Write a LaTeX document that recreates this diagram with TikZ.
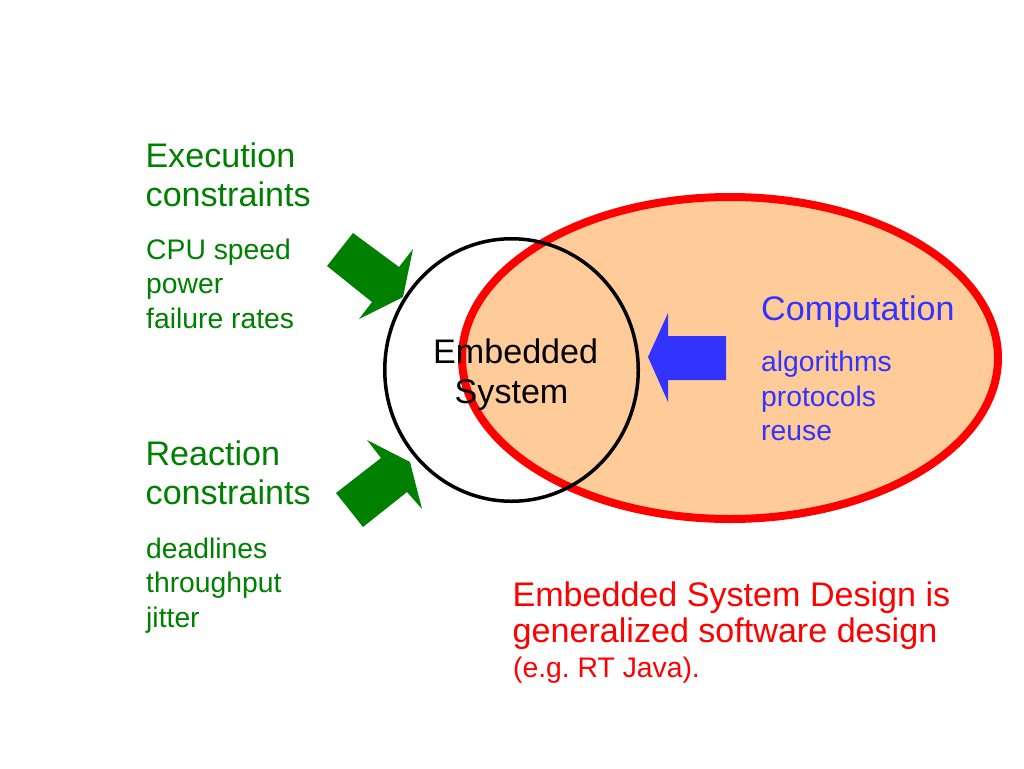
\documentclass[tikz,border=0pt]{standalone}
\usepackage{fontspec}
\setmainfont{Liberation Sans}
\definecolor{peach}{HTML}{FFCC99}
\definecolor{dgreen}{HTML}{008000}
\definecolor{cblue}{HTML}{3333FF}
\frenchspacing
\begin{document}
\begin{tikzpicture}[x=1pt,y=-1pt,
  big/.style={inner sep=0pt, anchor=base west, font=\fontsize{34.1}{40}\selectfont},
  small/.style={inner sep=0pt, anchor=base west, font=\fontsize{28.3}{34}\selectfont},
  greenarrow/.style={fill=dgreen, draw=none},
  bluearrow/.style={fill=cblue, draw=none}]
\useasboundingbox (0,0) rectangle (1024,768);
\fill[white] (0,0) rectangle (1024,768);
% computation ellipse
\draw[red, line width=8pt, fill=peach] (730,358) ellipse [x radius=268pt, y radius=161pt];
% embedded system circle
\draw[black, line width=3.5pt] (511.5,370) ellipse [x radius=126.75pt, y radius=131.25pt];
% green block arrows
\fill[greenarrow] (353,233) -- (399,267) -- (413,249) -- (403,297) -- (359,319) -- (372,302) -- (327,266) -- cycle;
\fill[greenarrow] (336,493) -- (381,458) -- (367,440) -- (410,462) -- (422,509) -- (407,492) -- (363,527) -- cycle;
% blue block arrow
\fill[bluearrow] (726,336) -- (668,336) -- (668,313) -- (648,357) -- (668,402) -- (668,380) -- (726,380) -- cycle;
% left texts
\node[big, text=dgreen] (exec1) at (145.3,167.3) {Execution};
\node[big, text=dgreen] (exec2) at (145.5,206.7) {constraints};
\node[small, text=dgreen] (cpu) at (146,259.3) {CPU speed};
\node[small, text=dgreen] (power) at (146,293.8) {power};
\node[small, text=dgreen] (fail) at (146,328.3) {failure rates};
\node[big, text=dgreen] (react1) at (145.3,465.7) {Reaction};
\node[big, text=dgreen] (react2) at (145.5,504) {constraints};
\node[small, text=dgreen] (dead) at (146,558.3) {deadlines};
\node[small, text=dgreen] (thr) at (146,592.8) {throughput};
\node[small, text=dgreen] (jit) at (146,627.3) {jitter};
% embedded system label
\node[big, text=black] (emb1) at (433,363.3) {Embedded};
\node[big, text=black] (emb2) at (454.5,403.3) {System};
% computation texts
\node[big, text=cblue] (comp) at (761,320) {Computation};
\node[small, text=cblue] (alg) at (761,371.5) {algorithms};
\node[small, text=cblue] (prot) at (761,406) {protocols};
\node[small, text=cblue] (reuse) at (761,440.5) {reuse};
% design statement
\node[big, text=red] (des1) at (512.3,606.7) {Embedded System Design is};
\node[big, text=red] (des2) at (512.5,642.7) {generalized software design};
\node[small, text=red] (des3) at (513,677.3) {(e.g. RT Java).};
\end{tikzpicture}
\end{document}
